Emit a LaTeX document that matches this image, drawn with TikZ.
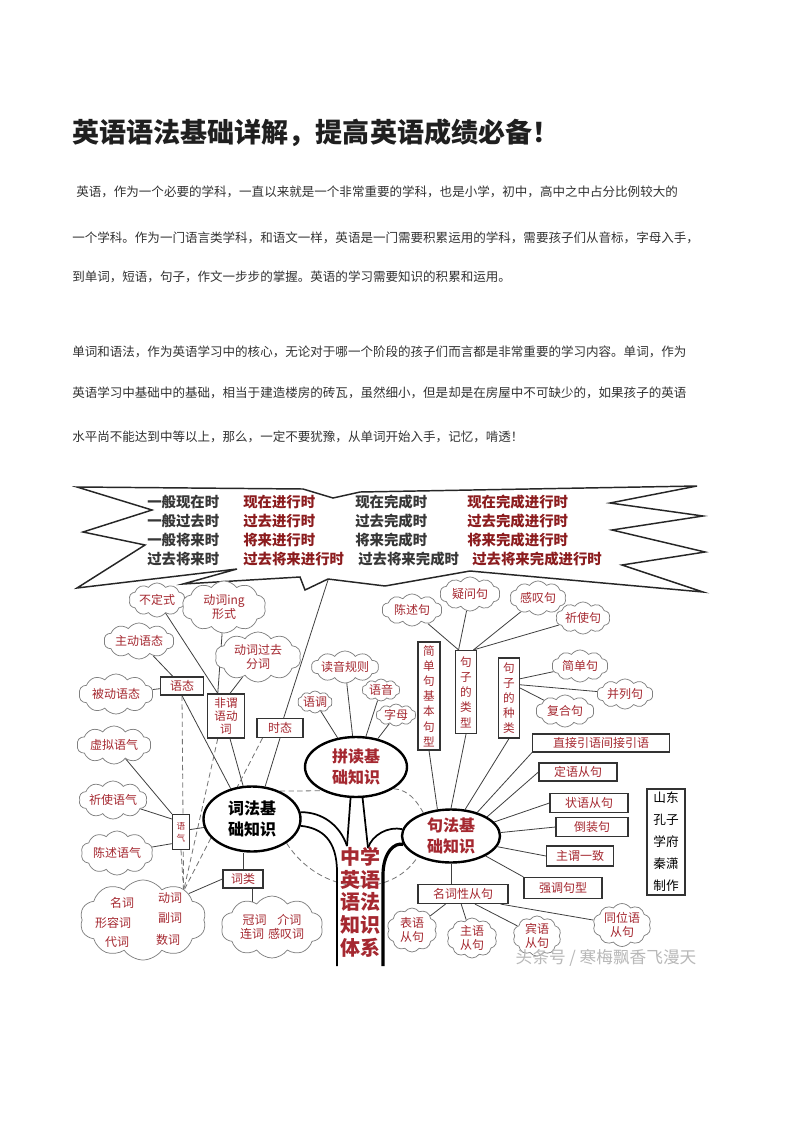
\documentclass[tikz,border=0pt]{standalone}
\usepackage{fontspec}
\usetikzlibrary{shapes.symbols,shapes.geometric,backgrounds}
\newfontfamily\cjk{Noto Sans CJK SC}
\XeTeXlinebreaklocale "zh"
\XeTeXlinebreakskip=0pt plus 1pt minus 0.5pt
\definecolor{redt}{RGB}{165,40,48}
\definecolor{bred}{RGB}{140,28,30}
\definecolor{bgray}{RGB}{55,55,55}
\definecolor{txtc}{RGB}{50,50,50}
\newcommand\myfcl{\cjk\fontsize{9}{11}\selectfont\XeTeXlinebreakskip=1.6pt plus 1pt\relax}
\newcommand\myfwide{\cjk\fontsize{9}{11}\selectfont\XeTeXlinebreakskip=3pt\relax}
\newcommand\myfv{\cjk\fontsize{8.7}{10}\selectfont}
\newcommand\myftiny{\cjk\fontsize{6.5}{9}\selectfont}
\newcommand\myvert{\cjk\fontsize{8.7}{11.4}\selectfont}
\newcommand\myfel{\cjk\bfseries\fontsize{12}{15.5}\selectfont\XeTeXlinebreakskip=0.5pt\relax}
\newcommand\myfbt{\cjk\bfseries\fontsize{10.8}{13}\selectfont}
\newcommand\myfbody{\cjk\fontsize{9.4}{12}\selectfont}
\newcommand\mycredit{\cjk\fontsize{9.5}{16.5}\selectfont\XeTeXlinebreakskip=2pt\relax}
\newcommand\myftitle{\cjk\bfseries\fontsize{20.3}{24}\selectfont}
\newcommand\myftrunk{\cjk\bfseries\fontsize{15}{17}\selectfont}
\newcommand\myfwm{\cjk\fontsize{12.5}{15}\selectfont}
\tikzset{
  sz/.style 2 args={minimum width=#1*0.75pt, minimum height=#2*0.75pt},
  cl/.style={cloud, cloud puffs=10, cloud puff arc=110, cloud ignores aspect, draw=black!50, line width=0.55pt, fill=white, text=redt, inner sep=0pt, align=center, font=\myfcl},
  bx/.style={rectangle, draw=black!80, line width=0.9pt, fill=white, text=redt, inner sep=1pt, align=center, font=\myfcl},
  el/.style={ellipse, draw=black, line width=1.8pt, fill=white, inner sep=0pt, align=center, font=\myfel},
  wd/.style={text=redt, font=\myfcl, inner sep=1pt},
  ln/.style={draw=black!75, line width=0.6pt},
  dsh/.style={draw=black!55, line width=0.6pt, dash pattern=on 4pt off 2.5pt},
  trk/.style={draw=black, line width=1.3pt},
  bt/.style={anchor=west, inner sep=0pt, font=\myfbt},
  btg/.style={bt, text=bgray},
  btr/.style={bt, text=bred},
  body/.style={anchor=west, inner sep=0pt, font=\myfbody, text=txtc},
}
\begin{document}
\begin{tikzpicture}[x=0.75pt,y=-0.75pt]
\useasboundingbox (0,0) rectangle (794,1123);

% title and text
\node[anchor=west, inner sep=0pt, font=\myftitle, text=black!88] (title) at (72,133) {英语语法基础详解，提高英语成绩必备！};
\node[body] (p1a) at (76,192) {\hbox to 460pt{英语，作为一个必要的学科，一直以来就是一个非常重要的学科，也是小学，初中，高中之中占分比例较大的}};
\node[body] (p1b) at (72,238) {\hbox to 465pt{一个学科。作为一门语言类学科，和语文一样，英语是一门需要积累运用的学科，需要孩子们从音标，字母入手，}};
\node[body] (p1c) at (72,277) {到单词，短语，句子，作文一步步的掌握。英语的学习需要知识的积累和运用。};
\node[body] (p2a) at (72,352) {\hbox to 463pt{单词和语法，作为英语学习中的核心，无论对于哪一个阶段的孩子们而言都是非常重要的学习内容。单词，作为}};
\node[body] (p2b) at (72,393) {\hbox to 463pt{英语学习中基础中的基础，相当于建造楼房的砖瓦，虽然细小，但是却是在房屋中不可缺少的，如果孩子的英语}};
\node[body] (p2c) at (72,437) {水平尚不能达到中等以上，那么，一定不要犹豫，从单词开始入手，记忆，啃透！};

% banner
\draw[line width=1.1pt, draw=black!85, fill=white, line join=miter]
  (77,487) -- (303,489) -- (333,498) -- (360,492) -- (697,486) -- (610,503) -- (703,516)
  -- (612,530) -- (705,552) -- (622,565) -- (703,592) -- (470,571) -- (385,586) -- (328,579)
  -- (305,590) -- (300,577) -- (183,584) -- (237,569) -- (77,588) -- (145,545) -- (83,532)
  -- (152,510) -- cycle;
\coordinate (bn) at (328,580);
\node[btg] (t11) at (147,502) {一般现在时};
\node[btr] (t12) at (243,502) {现在进行时};
\node[btg] (t13) at (355,502) {现在完成时};
\node[btr] (t14) at (467,502) {现在完成进行时};
\node[btg] (t21) at (147,521) {一般过去时};
\node[btr] (t22) at (243,521) {过去进行时};
\node[btg] (t23) at (355,521) {过去完成时};
\node[btr] (t24) at (467,521) {过去完成进行时};
\node[btg] (t31) at (147,540) {一般将来时};
\node[btr] (t32) at (243,540) {将来进行时};
\node[btg] (t33) at (355,540) {将来完成时};
\node[btr] (t34) at (467,540) {将来完成进行时};
\node[btg] (t41) at (147,559) {过去将来时};
\node[btr] (t42) at (243,559) {过去将来进行时};
\node[btg] (t43) at (358,559) {过去将来完成时};
\node[btr] (t44) at (472,559) {过去将来完成进行时};

% clouds
\node[cl, sz={56}{34}] (cBuding) at (157,600) {不定式};
\node[cl, sz={84}{52}] (cIng) at (224,607) {动词ing\\形式};
\node[cl, sz={70}{36}] (cZhudong) at (139,641) {主动语态};
\node[cl, sz={86}{50}] (cGuoqu) at (258,657) {动词过去\\分词};
\node[cl, sz={74}{40}] (cBeidong) at (116,694) {被动语态};
\node[cl, sz={74}{38}] (cXuni) at (114,745) {虚拟语气};
\node[cl, sz={68}{38}] (cQishi) at (113,800) {祈使语气};
\node[cl, sz={72}{44}] (cChenshu) at (117,853) {陈述语气};
\node[cl, sz={126}{80}] (cCi) at (143,920) {};
\node[wd] (nMing) at (122,903) {名词};
\node[wd] (nDong) at (170,898) {动词};
\node[wd] (nXing) at (113,923) {形容词};
\node[wd] (nFu) at (170,918) {副词};
\node[wd] (nDai) at (117,942) {代词};
\node[wd] (nShu) at (168,940) {数词};
\node[cl, sz={102}{62}] (cGuanci) at (272,927) {冠词\hspace{8pt}介词\\连词\hspace{3pt}感叹词};
\node[cl, sz={60}{32}] (cDuyin) at (345,667) {读音规则};
\node[cl, sz={34}{22}] (cYudiao) at (315,702) {语调};
\node[cl, sz={38}{22}] (cYuyin) at (381,690) {语音};
\node[cl, sz={40}{22}] (cZimu) at (396,715) {字母};
\node[cl, sz={60}{32}] (cChenshuju) at (412,610) {陈述句};
\node[cl, sz={60}{34}] (cYiwen) at (470,594) {疑问句};
\node[cl, sz={56}{34}] (cGantan) at (538,598) {感叹句};
\node[cl, sz={54}{32}] (cQishiju) at (583,618) {祈使句};
\node[cl, sz={56}{32}] (cJiandan) at (580,666) {简单句};
\node[cl, sz={56}{30}] (cBinglie) at (625,694) {并列句};
\node[cl, sz={58}{32}] (cFuhe) at (565,711) {复合句};
\node[cl, sz={50}{44}] (cBiaoyu) at (412,930) {表语\\从句};
\node[cl, sz={50}{40}] (cZhuyu) at (472,938) {主语\\从句};
\node[cl, sz={48}{38}] (cBinyu) at (537,936) {宾语\\从句};
\node[cl, sz={58}{38}] (cTongwei) at (622,925) {同位语\\从句};

% boxes
\node[bx, sz={43}{18}] (bYutai) at (182,686) {语态};
\node[bx, sz={37}{44}, font=\myfv] (bFeiwei) at (226,716) {非谓\\语动\\词};
\node[bx, sz={46}{19}] (bShitai) at (280,728) {时态};
\node[bx, sz={17}{35}, inner sep=0pt, font=\myftiny] (bYuqi) at (181,832) {语\\气};
\node[bx, sz={40}{18}] (bCilei) at (243,879) {词类};
\node[bx, sz={22}{108}, font=\myvert] (bJdjx) at (429,696) {简\\单\\句\\基\\本\\句\\型};
\node[bx, sz={21}{83}, font=\myvert] (bLeixing) at (466,692) {句\\子\\的\\类\\型};
\node[bx, sz={21}{80}, font=\myvert] (bZhonglei) at (509,698) {句\\子\\的\\种\\类};
\node[bx, sz={137}{18}, font=\myfwide] (bZhijie) at (601,743) {直接引语间接引语};
\node[bx, sz={78}{18}] (bDingyu) at (578,772) {定语从句};
\node[bx, sz={78}{19}] (bZhuangyu) at (589,803) {状语从句};
\node[bx, sz={72}{19}] (bDaozhuang) at (592,827) {倒装句};
\node[bx, sz={67}{20}] (bZhuwei) at (580,856) {主谓一致};
\node[bx, sz={78}{21}] (bQiangdiao) at (563,888) {强调句型};
\node[bx, sz={90}{19}] (bMingci) at (463,894) {名词性从句};
\node[bx, sz={38}{106}, text=black, font=\mycredit] (bCredit) at (666,842) {山东\\孔子\\学府\\秦潇\\制作};

% ellipses
\node[el, sz={97}{65}, text=black] (eCifa) at (252,819) {词法基\\础知识};
\node[el, sz={102}{60}, text=redt] (ePindu) at (356,767) {拼读基\\础知识};
\node[el, sz={98}{53}, text=redt] (eJufa) at (451,836) {句法基\\础知识};

% trunk text
\node[inner sep=0pt, align=center, text=redt, font=\myftrunk] (trunk) at (360,902) {中学\\英语\\语法\\知识\\体系};

% watermark
\node[inner sep=0pt, text=black!28, font=\myfwm] (wm) at (606,958) {头条号 / 寒梅飘香飞漫天};

\coordinate (m1) at (347,846);
\coordinate (m2) at (368,848);
\coordinate (tl) at (337,966);
\coordinate (tr) at (383,966);

\begin{pgfonlayer}{background}
\fill[white] (0,0) rectangle (794,1123);
% left cluster
\draw[ln] (cZhudong) -- (bYutai);
\draw[ln] (cBeidong) -- (bYutai);
\draw[ln] (bYutai.south) -- (eCifa.125);
\draw[ln] (cBuding) -- (bFeiwei.110);
\draw[ln] (cIng) -- (bFeiwei.110);
\draw[ln] (cGuoqu) -- (bFeiwei.80);
\draw[ln] (bFeiwei.-80) -- (eCifa.105);
\draw[ln] (bShitai.south) -- (eCifa.68);
\draw[ln] (bn) -- (bShitai.70);
\draw[ln] (cXuni) -- (bYuqi.north west);
\draw[ln] (cQishi) -- (bYuqi.125);
\draw[ln] (cChenshu) -- (bYuqi.-128);
\draw[ln] (bYuqi.15) -- (eCifa.190);
\draw[ln] (bCilei.north) -- (bCilei.north |- eCifa.south);
\draw[ln] (bCilei.west) -- (cCi.30);
\draw[ln] ([xshift=7pt]bCilei.south) -- ([xshift=7pt]bCilei.south |- cGuanci.center);
% dashed to verb
\draw[dsh] (bYutai.south) -- (nDong.north east);
\draw[dsh] (bFeiwei.-110) -- (nDong.north east);
\draw[dsh] (bShitai.-150) -- (nDong.north east);
\draw[dsh] (bYuqi.south) -- (nDong.north east);
% pindu
\draw[ln] (cDuyin) -- (ePindu);
\draw[ln] (cYudiao) -- (ePindu);
\draw[ln] (cYuyin) -- (ePindu);
\draw[ln] (cZimu) -- (ePindu);
% right cluster
\draw[ln] (cChenshuju) -- (bLeixing.100);
\draw[ln] (cYiwen) -- (bLeixing.100);
\draw[ln] (cGantan) -- (bLeixing.80);
\draw[ln] (cQishiju) -- (bLeixing.80);
\draw[ln] (bZhonglei.60) -- (cJiandan);
\draw[ln] (bZhonglei.50) -- (cBinglie);
\draw[ln] (bZhonglei.42) -- (cFuhe);
\draw[ln] (bJdjx.south) -- (eJufa.117);
\draw[ln] (bLeixing.south) -- (eJufa.90);
\draw[ln] (bZhonglei.south) -- (eJufa.62);
\draw[ln] (bZhijie.south west) -- (eJufa.42);
\draw[ln] (bDingyu.west) -- (eJufa.28);
\draw[ln] (bZhuangyu.west) -- (eJufa.18);
\draw[ln] (bDaozhuang.west) -- (eJufa.4);
\draw[ln] (bZhuwei.west) -- (eJufa.-13);
\draw[ln] (bQiangdiao.north west) -- (eJufa.-30);
\draw[ln] (eJufa.south) -- (eJufa.south |- bMingci.north);
\draw[ln] (bMingci.-150) -- (cBiaoyu);
\draw[ln] (bMingci.-100) -- (cZhuyu);
\draw[ln] (bMingci.-40) -- (cBinyu);
\draw[ln] (bMingci.-15) -- (cTongwei);
% dashed between ellipses
\draw[dsh] (eCifa.45) -- (ePindu.215);
\draw[dsh] (ePindu.-30) to[out=-5,in=120] (eJufa.140);
\draw[dsh] (eCifa.-35) .. controls (320,895) and (390,900) .. (eJufa.-148);
% trunk
\draw[trk] (eCifa.8) .. controls (322,812) and (340,825) .. (m1);
\draw[trk] (ePindu.-100) -- (m1);
\draw[trk] (ePindu.-78) -- (m2);
\draw[trk] (eJufa.172) .. controls (388,826) and (372,835) .. (m2);
\draw[trk] (eCifa.-8) .. controls (322,828) and (337,840) .. (337,872) -- (tl);
\draw[trk, line width=2.4pt] (eJufa.190) .. controls (395,842) and (383,852) .. (383,875) -- (tr);
\end{pgfonlayer}
\end{tikzpicture}
\end{document}
